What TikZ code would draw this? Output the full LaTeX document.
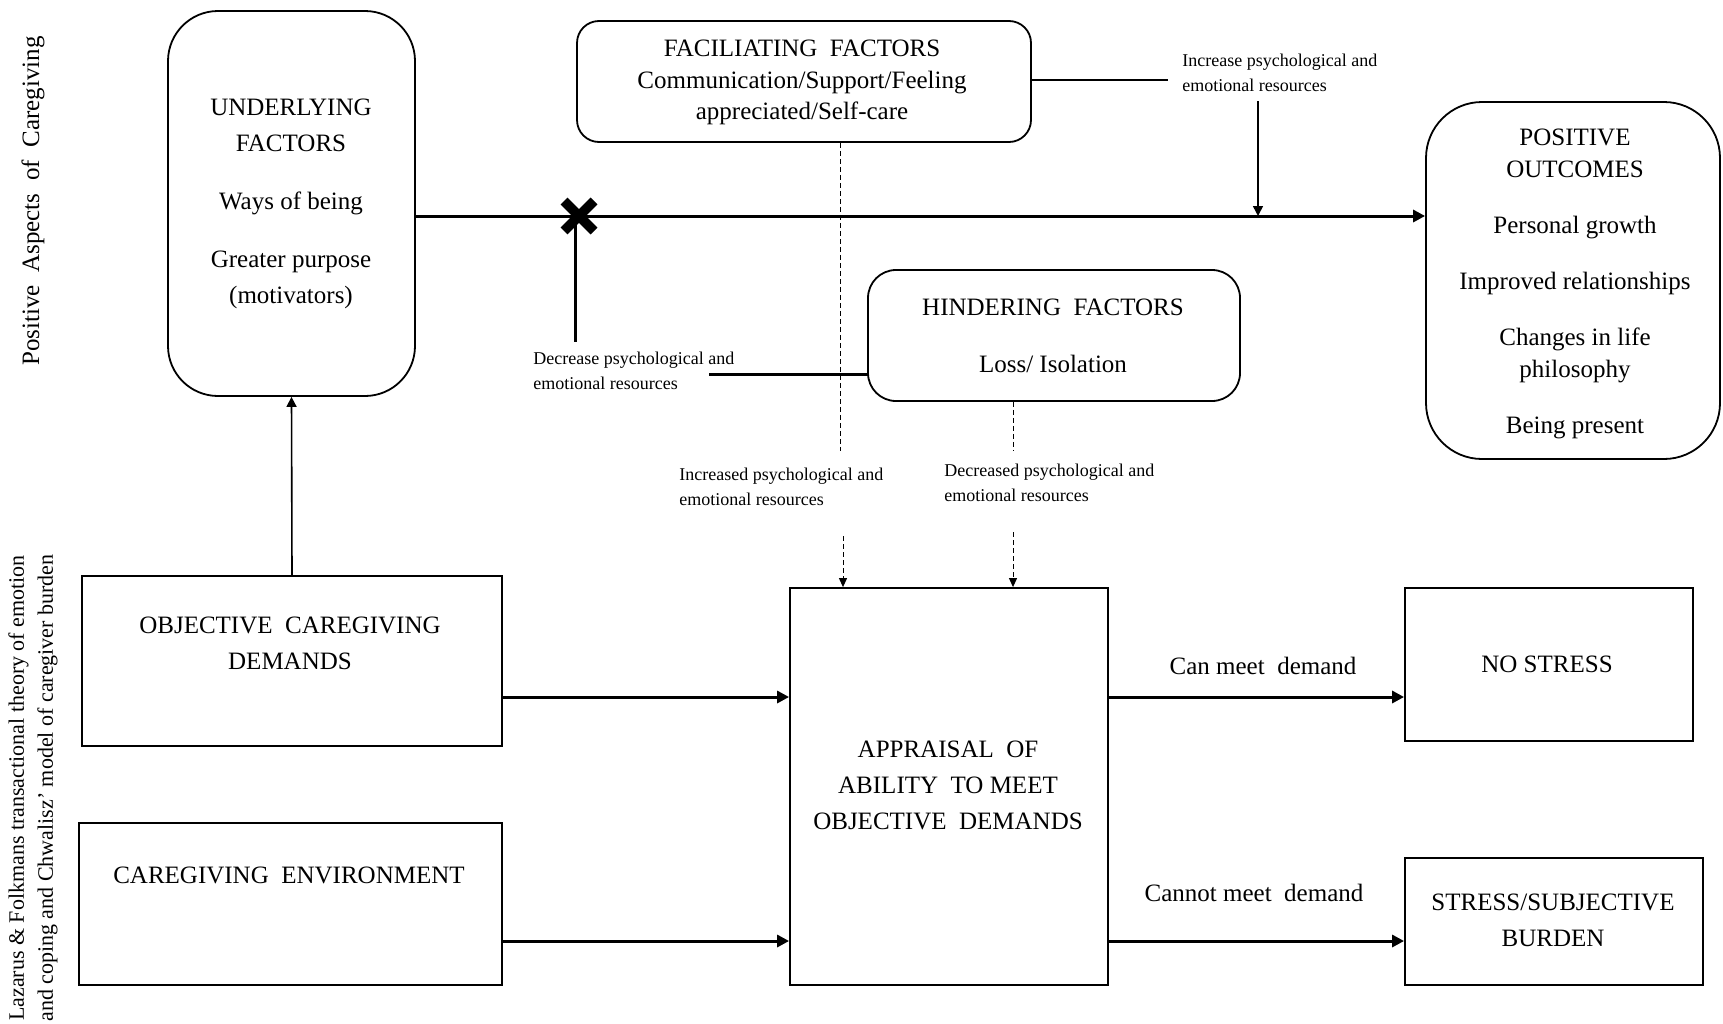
\documentclass[tikz,border=0pt]{standalone}
\usepackage{fontspec}
\setmainfont{Liberation Serif}
\usetikzlibrary{arrows.meta,calc}
\begin{document}
\begin{tikzpicture}[x=0.5pt,y=-0.5pt,
  box/.style={draw, line width=0.9pt, inner sep=0, rectangle},
  txt/.style={font=\fontsize{12.5}{18}\selectfont, align=center, inner sep=0},
  sm/.style={font=\fontsize{9}{12.5}\selectfont, align=left, inner sep=0, anchor=west},
  thickarrow/.style={line width=1.5pt, -{Triangle[length=6pt,width=6pt]}},
  thickline/.style={line width=1.5pt},
  thinline/.style={line width=0.8pt},
  thinarrow/.style={line width=0.8pt, -{Triangle[length=5pt,width=5pt]}},
  dashline/.style={line width=0.5pt, dash pattern=on 2.5pt off 1.5pt},
  dasharrow/.style={line width=0.5pt, dash pattern=on 2.5pt off 1.5pt, -{Triangle[length=4.5pt,width=4pt]}}
]
\useasboundingbox[fill=white] (0,0) rectangle (1723,1023);

% boxes
\node[box, rounded corners=25pt, minimum width=123.5pt, minimum height=192.5pt] (und) at (291.5,203.5) {};
\node[box, rounded corners=11pt, minimum width=227pt, minimum height=60.5pt] (fac) at (804,81.5) {};
\node[box, rounded corners=28pt, minimum width=147pt, minimum height=178.5pt] (pos) at (1573,280.5) {};
\node[box, rounded corners=14pt, minimum width=186pt, minimum height=65.5pt] (hind) at (1054,335.5) {};
\node[box, minimum width=210pt, minimum height=85pt] (obj) at (292,661) {};
\node[box, minimum width=211.5pt, minimum height=81pt] (env) at (290.5,904) {};
\node[box, minimum width=159pt, minimum height=198.5pt] (app) at (949,786.5) {};
\node[box, minimum width=144pt, minimum height=76.5pt] (nos) at (1549,664.5) {};
\node[box, minimum width=149pt, minimum height=63.5pt] (str) at (1554,921.5) {};

% box texts
\node[txt] (undt) at (291,204) {UNDERLYING\\FACTORS\\[11pt]Ways of being\\[11pt]Greater purpose\\(motivators)};
\node[txt, font=\fontsize{12.5}{15.75}\selectfont] (fact) at (802,82.5) {FACILIATING\ \ FACTORS\\Communication/Support/Feeling\\appreciated/Self-care};
\node[txt, font=\fontsize{12.5}{16}\selectfont] (post) at (1575,283.5) {POSITIVE\\OUTCOMES\\[12pt]Personal growth\\[12pt]Improved relationships\\[12pt]Changes in life\\philosophy\\[12pt]Being present};
\node[txt] (hindt) at (1053,335.5) {HINDERING\ \ FACTORS\\[10.5pt]Loss/\ Isolation};
\node[txt] (objt) at (290,643.5) {OBJECTIVE\ \ CAREGIVING\\DEMANDS};
\node[txt] (envt) at (289,875) {CAREGIVING\ \ ENVIRONMENT};
\node[txt] (appt) at (948,785.5) {APPRAISAL\ \ OF\\ABILITY\ \ TO MEET\\OBJECTIVE\ \ DEMANDS};
\node[txt] (nost) at (1547,664) {NO STRESS};
\node[txt] (strt) at (1553,920) {STRESS/SUBJECTIVE\\BURDEN};

% edge labels
\node[txt] (can) at (1263,666) {Can meet\ \ demand};
\node[txt] (cannot) at (1254,893) {Cannot meet\ \ demand};

% small labels
\node[sm] (inc) at (1182,72.5) {Increase psychological and\\emotional resources};
\node[sm] (dec) at (533,371) {Decrease psychological and\\emotional resources};
\node[sm] (incd) at (679,486.5) {Increased psychological and\\emotional resources};
\node[sm] (decd) at (944,483) {Decreased psychological and\\emotional resources};

% side labels
\node[rotate=90, inner sep=0, font=\fontsize{12.5}{15}\selectfont] (lab1) at (33,201) {Positive\ \ Aspects\ \ of\ \ Caregiving};
\node[rotate=90, inner sep=0, align=center, font=\fontsize{11}{14.5}\selectfont] (lab2) at (33,788) {Lazarus \& Folkmans transactional theory of emotion\\and coping and Chwalisz’ model of caregiver burden};

% main line with cross
\coordinate (X) at (579,216);
\draw[thickarrow] (und.east |- X) -- (pos.west |- X);
\draw[line width=4.8pt] ($(X)+(-15,-15)$) -- ($(X)+(15,15)$) ($(X)+(-15,15)$) -- ($(X)+(15,-15)$);
\coordinate (Dv) at (575,342);
\draw[thickline] (X -| Dv) -- (Dv);
\coordinate (Dh) at (709,374);
\draw[thickline] (Dh) -- (hind.west |- Dh);

% facilitating -> main line
\coordinate (Ie) at (1168,80);
\draw[thinline] (fac.east |- Ie) -- (Ie);
\coordinate (It) at (1258,101);
\draw[thinarrow] (It) -- (It |- X);

% dashed connectors
\coordinate (F1) at (840,451);
\coordinate (F2) at (843,536);
\draw[dashline] (fac.south -| F1) -- (F1);
\draw[dasharrow] (F2) -- (F2 |- app.north);
\coordinate (H1) at (1013,451);
\coordinate (H2) at (1013,532);
\draw[dashline] (hind.south -| H1) -- (H1);
\draw[dasharrow] (H2) -- (H2 |- app.north);

% lower arrows
\coordinate (ya) at (0,697);
\coordinate (yb) at (0,941);
\draw[thickarrow] (obj.east |- ya) -- (app.west |- ya);
\draw[thickarrow] (env.east |- yb) -- (app.west |- yb);
\draw[thickarrow] (app.east |- ya) -- (nos.west |- ya);
\draw[thickarrow] (app.east |- yb) -- (str.west |- yb);
\draw[thinarrow] (obj.north) -- (und.south);
\end{tikzpicture}
\end{document}
